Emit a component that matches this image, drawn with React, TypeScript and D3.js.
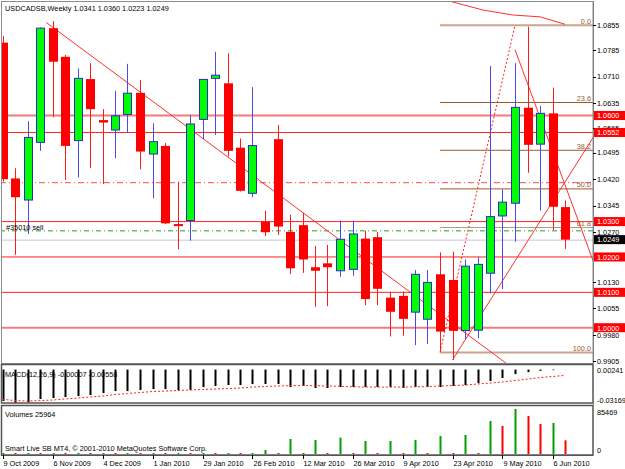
import React from 'react';
import * as d3 from 'd3';

const W = 625;
const H = 469;

const opens = [1.0806,1.0422,1.0361,1.0524,1.0847,1.0766,1.0529,1.0703,1.0587,1.0559,1.0603,1.0664,1.0491,1.0514,1.0293,1.0303,1.0589,1.0705,1.0691,1.0509,1.0380,1.0300,1.0533,1.0271,1.0290,1.0171,1.0182,1.0161,1.0165,1.0252,1.0256,1.0085,1.0090,1.0044,1.0024,1.0151,1.0135,0.9992,0.9993,1.0154,1.0316,1.0352,1.0622,1.0519,1.0606,1.0341];
const highs = [1.0825,1.0451,1.0584,1.0849,1.0867,1.0771,1.0733,1.0748,1.0618,1.0670,1.0746,1.0700,1.0578,1.0522,1.0413,1.0601,1.0703,1.0780,1.0776,1.0535,1.0680,1.0331,1.0573,1.0319,1.0325,1.0231,1.0234,1.0303,1.0303,1.0274,1.0271,1.0102,1.0102,1.0163,1.0163,1.0213,1.0215,1.0193,1.0199,1.0740,1.0391,1.0748,1.0851,1.0627,1.0679,1.0360];
const lows = [1.0413,1.0206,1.0265,1.0500,1.0595,1.0418,1.0425,1.0451,1.0406,1.0479,1.0551,1.0448,1.0366,1.0293,1.0222,1.0246,1.0533,1.0545,1.0484,1.0385,1.0369,1.0259,1.0262,1.0152,1.0155,1.0059,1.0061,1.0144,1.0147,1.0064,1.0064,0.9975,0.9977,0.9951,0.9954,0.9932,0.9909,0.9967,0.9970,1.0097,1.0109,1.0243,1.0438,1.0331,1.0276,1.0223];
const closes = [1.0420,1.0369,1.0538,1.0847,1.0752,1.0514,1.0705,1.0618,1.0580,1.0599,1.0663,1.0498,1.0526,1.0295,1.0288,1.0576,1.0702,1.0714,1.0500,1.0387,1.0515,1.0270,1.0286,1.0168,1.0193,1.0161,1.0171,1.0250,1.0265,1.0081,1.0110,1.0045,1.0025,1.0151,1.0128,0.9989,0.9991,1.0174,1.0179,1.0314,1.0355,1.0623,1.0517,1.0606,1.0342,1.0249];

const volumes = [1200,600,1300,500,1200,600,1300,500,1200,600,1300,500,1200,600,1300,500,1200,600,1300,500,900,7600,700,28500,800,26600,700,31000,800,24700,700,24700,800,26600,700,34200,800,36100,900,62700,53200,85469,72200,57000,58900,25964];

const macdMain = [-0.0298,-0.0317,-0.0312,-0.0279,-0.0270,-0.0260,-0.0251,-0.0241,-0.0223,-0.0204,-0.0204,-0.0194,-0.0185,-0.0185,-0.0194,-0.0194,-0.0166,-0.0156,-0.0147,-0.0147,-0.0137,-0.0137,-0.0137,-0.0166,-0.0156,-0.0175,-0.0175,-0.0166,-0.0166,-0.0166,-0.0166,-0.0166,-0.0175,-0.0166,-0.0166,-0.0166,-0.0156,-0.0147,-0.0128,-0.0109,-0.0080,-0.0043,-0.0024,-0.0012,-0.0006,-0.00007];
const macdSignal = [-0.0282,-0.0294,-0.0298,-0.0294,-0.0289,-0.0279,-0.0270,-0.0260,-0.0251,-0.0237,-0.0227,-0.0218,-0.0208,-0.0204,-0.0199,-0.0194,-0.0189,-0.0185,-0.0180,-0.0175,-0.0166,-0.0161,-0.0156,-0.0152,-0.0152,-0.0153,-0.0156,-0.0159,-0.0163,-0.0166,-0.0166,-0.0166,-0.0166,-0.0163,-0.0161,-0.0156,-0.0152,-0.0147,-0.0137,-0.0128,-0.0118,-0.0104,-0.0090,-0.0076,-0.0066,-0.00558];

const dateLabels = ['9 Oct 2009','6 Nov 2009','4 Dec 2009','1 Jan 2010','29 Jan 2010','26 Feb 2010','12 Mar 2010','26 Mar 2010','9 Apr 2010','23 Apr 2010','9 May 2010','6 Jun 2010'];
const dateBars = [0,4,8,12,16,20,24,28,32,36,40,44];

const priceTicks = [1.0855,1.0785,1.0710,1.0635,1.0565,1.0495,1.0420,1.0345,1.0270,1.0130,1.0055,0.9980,0.9905];
const levelPrices = [1.0600,1.0552,1.0300,1.0200,1.0100,1.0000];
const levelLabels = ['1.0600','1.0552','1.0300','1.0200','1.0100','1.0000'];
const levelHeavy = [true,false,false,false,false,true];

const fibLevels = [0,23.6,38.2,50.0,61.8,100.0];
const fibLabels = ['0.0','23.6','38.2','50.0','61.8','100.0'];
const fibAnchorBars = [35,41];
const fibAnchorPrices = [0.9930,1.0855];

const trendA = { bars: [3.5, 36], prices: [1.0863, 1.0012] };
const trendB = { bars: [36, 45], prices: [0.9909, 1.0412] };
const trendD = { bars: [41, 45], prices: [1.0786, 1.0404] };
const arcBars = [35.9, 38.46, 40.86, 43, 45];
const arcPrices = [1.0922, 1.0898, 1.0884, 1.0879, 1.0858];

const stopPrice = 1.0410;
const orderPrice = 1.0274;
const bidPrice = 1.0249;

const title = 'USDCADSB,Weekly  1.0341 1.0360 1.0223 1.0249';
const macdTitle = 'MACD(12,26,9) -0.00007 -0.00558';
const volTitle = 'Volumes 25964';
const copyright = 'Smart Live SB MT4, \u00A9 2001-2010 MetaQuotes Software Corp.';
const orderLabel = '#35010 sell';
const macdTicks = [0.00241, -0.03169];
const macdTickLabels = ['0.00241', '-0.03169'];
const volMax = 85469;

const FONT = 'Liberation Sans, Arial, sans-serif';
const FS = 7.3;

export default function App() {
  const AX = 593; // right axis x
  const mainTop = 2, mainBot = 363;
  const macdTop = 366, macdBot = 403;
  const volTop = 406, volBot = 455;

  const x = d3.scaleLinear().domain([0, 45]).range([2.5, 565]);
  const y = d3.scaleLinear().domain([0.99002, 1.09209]).range([mainBot, mainTop]);
  const ym = d3.scaleLinear().domain([-0.03169, 0.00241]).range([macdBot, macdTop + 1]);
  const yv = d3.scaleLinear().domain([0, volMax]).range([volBot - 1, 409]);

  const bw = 8;

  const ray = (t: { bars: number[]; prices: number[] }) => {
    const x1 = x(t.bars[0]), y1 = y(t.prices[0]);
    const x2 = x(t.bars[1]), y2 = y(t.prices[1]);
    const s = (y2 - y1) / (x2 - x1);
    const xe = AX + 10;
    return { x1, y1, x2: xe, y2: y1 + s * (xe - x1) };
  };
  const lA = ray(trendA), lB = ray(trendB), lD = ray(trendD);

  const fibRange = fibAnchorPrices[1] - fibAnchorPrices[0];
  const fibX0 = x(fibAnchorBars[0]);

  const arcLine = d3.line<number>().x((_, i) => x(arcBars[i])).y((_, i) => y(arcPrices[i]))(arcBars);
  const signalLine = d3.line<number>().x((_, i) => x(i)).y((d) => ym(d))(macdSignal);

  const fmt = d3.format('.4f');

  return (
    <svg width={W} height={H} style={{ position: 'absolute', left: 0, top: 0, background: '#fff' }} fontFamily={FONT} fontSize={FS}>
      <defs>
        <clipPath id="mainClip"><rect x={2} y={mainTop} width={AX - 2} height={mainBot - mainTop} /></clipPath>
        <clipPath id="macdClip"><rect x={2} y={macdTop} width={AX - 2} height={macdBot - macdTop} /></clipPath>
      </defs>
      <rect x={0} y={0} width={W} height={H} fill="#fff" />

      <g clipPath="url(#mainClip)">
        {/* stop loss dash-dot */}
        <line x1={0} x2={AX} y1={y(stopPrice)} y2={y(stopPrice)} stroke="#ff4a4a" strokeDasharray="6,3,1,3" />
        {/* bid */}
        <line x1={0} x2={AX} y1={y(bidPrice) + 0.5} y2={y(bidPrice) + 0.5} stroke="#c4c4dc" />
        {/* order line */}
        <line x1={0} x2={AX} y1={y(orderPrice)} y2={y(orderPrice)} stroke="#6cbf6c" strokeWidth={1.5} strokeDasharray="5,3,1,3" />
        {/* level lines */}
        {levelPrices.map((p, i) => (
          <line key={'lv' + i} x1={0} x2={AX} y1={y(p)} y2={y(p)} stroke={levelHeavy[i] ? '#f27b7b' : '#ff2020'} strokeWidth={levelHeavy[i] ? 2 : 1} />
        ))}
        {/* fib */}
        {fibLevels.map((lv, i) => {
          const p = fibAnchorPrices[1] - fibRange * lv / 100;
          const heavy = lv === 0 || lv === 100;
          return <line key={'fb' + i} x1={fibX0} x2={AX} y1={y(p)} y2={y(p)} stroke={heavy ? '#c9a58f' : lv === 61.8 ? '#b09a90' : '#9a5a2e'} strokeWidth={heavy ? 2 : 1} />;
        })}
        <line x1={x(fibAnchorBars[0])} y1={y(fibAnchorPrices[0])} x2={x(fibAnchorBars[1])} y2={y(fibAnchorPrices[1])} stroke="#ff2020" strokeDasharray="2,2" />
        {fibLevels.map((lv, i) => {
          const p = fibAnchorPrices[1] - fibRange * lv / 100;
          return <text key={'fl' + i} x={AX - 2} y={y(p) - 1.5} textAnchor="end" fill="#9a5a2e">{fibLabels[i]}</text>;
        })}
        {/* trendlines */}
        <line {...lA} stroke="#ff3030" />
        <line {...lB} stroke="#ff3030" />
        <line {...lD} stroke="#ff3030" />
        <path d={arcLine || ''} fill="none" stroke="#ff3030" />

        {/* candles */}
        {opens.map((o, i) => {
          const c = closes[i];
          const up = c > o;
          const cx = Math.round(x(i)) + 0.5;
          const top = y(Math.max(o, c));
          const bot = y(Math.min(o, c));
          return (
            <g key={'c' + i}>
              <line x1={cx} x2={cx} y1={y(highs[i])} y2={y(lows[i])} stroke={up ? '#4a4ae6' : '#ff1a1a'} />
              {up ? (
                <rect x={cx - bw / 2} y={top} width={bw} height={Math.max(1, bot - top)} fill="#00ff00" stroke="#2b2bc8" strokeWidth={1} />
              ) : (
                <rect x={cx - bw / 2 - 0.5} y={top} width={bw + 1} height={Math.max(2, bot - top)} fill="#ff0000" />
              )}
            </g>
          );
        })}
        <text x={6} y={y(1.0300) + 8} fill="#000">{orderLabel}</text>
      </g>

      {/* MACD */}
      <g clipPath="url(#macdClip)">
        {macdMain.map((v, i) => (
          <line key={'m' + i} x1={Math.round(x(i)) + 0.5} x2={Math.round(x(i)) + 0.5} y1={ym(0)} y2={ym(v)} stroke="#000" strokeWidth={2} />
        ))}
        <path d={signalLine || ''} fill="none" stroke="#ff2020" strokeDasharray="2,2" />
      </g>

      {/* Volumes */}
      {volumes.map((v, i) => {
        const up = i === 0 ? true : v > volumes[i - 1];
        const h = Math.max(1, yv(0) - yv(v));
        return <rect key={'v' + i} x={Math.round(x(i)) - 0.5} y={yv(0) - h} width={2} height={h} fill={up ? '#00a000' : '#ff0000'} />;
      })}

      {/* borders */}
      <rect x={1.5} y={1.5} width={AX - 1.5} height={mainBot - 1} fill="none" stroke="#8c8c8c" />
      <rect x={1.5} y={macdTop - 1.5} width={AX - 1.5} height={macdBot - macdTop + 1.5} fill="none" stroke="#555" strokeWidth={1.5} />
      <rect x={1.5} y={volTop - 0.5} width={AX - 1.5} height={volBot - volTop + 0.5} fill="none" stroke="#555" strokeWidth={1.5} />
      <line x1={AX + 0.5} x2={AX + 0.5} y1={1} y2={volBot} stroke="#808080" />

      {/* titles */}
      <text x={5} y={11} fill="#000">{title}</text>
      <text x={5} y={377} fill="#000">{macdTitle}</text>
      <text x={5} y={417} fill="#000">{volTitle}</text>
      <text x={5} y={451} fill="#000">{copyright}</text>

      {/* price axis */}
      {priceTicks.map((p, i) => (
        <g key={'pt' + i}>
          <line x1={AX} x2={AX + 3} y1={Math.round(y(p)) + 0.5} y2={Math.round(y(p)) + 0.5} stroke="#000" />
          <text x={AX + 4} y={y(p) + 2.8} fill="#000">{fmt(p)}</text>
        </g>
      ))}
      {levelPrices.map((p, i) => (
        <g key={'lb' + i}>
          <rect x={AX + 1} y={y(p) - 4.5} width={W - AX - 1} height={9} fill="#ff0000" />
          <text x={AX + 4} y={y(p) + 2.8} fill="#fff">{levelLabels[i]}</text>
        </g>
      ))}
      <rect x={AX + 1} y={y(bidPrice) - 4.5} width={W - AX - 1} height={9} fill="#000" />
      <text x={AX + 4} y={y(bidPrice) + 2.8} fill="#fff">{fmt(bidPrice)}</text>

      {/* macd axis */}
      {macdTicks.map((v, i) => (
        <g key={'mt' + i}>
          <text x={AX + 4} y={i === 0 ? ym(v) + 5.5 : ym(v) - 0.5} fill="#000">{macdTickLabels[i]}</text>
        </g>
      ))}
      {/* volume axis */}
      <text x={AX + 4} y={yv(volMax) + 6} fill="#000">{String(volMax)}</text>
      <text x={AX + 4} y={yv(0) - 1.5} fill="#000">0</text>

      {/* date axis */}
      <line x1={1} x2={AX} y1={volBot + 0.5} y2={volBot + 0.5} stroke="#555" />
      {dateBars.map((b, i) => (
        <g key={'d' + i}>
          <line x1={Math.round(x(b)) + 0.5} x2={Math.round(x(b)) + 0.5} y1={volBot} y2={volBot + 4} stroke="#000" />
          <text x={x(b) + 1} y={466} fill="#000">{dateLabels[i]}</text>
        </g>
      ))}
    </svg>
  );
}
